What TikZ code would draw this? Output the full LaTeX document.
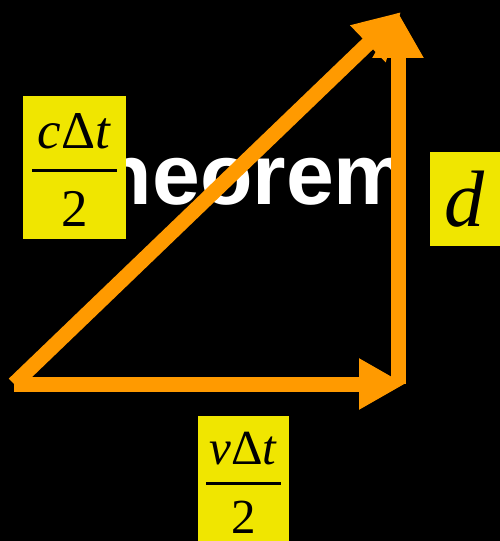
\documentclass[tikz,border=0pt]{standalone}
\usepackage{fontspec}
\setmainfont{Liberation Serif}
\newfontfamily\headfont{Liberation Sans}
\usetikzlibrary{arrows.meta}
\definecolor{legArrow}{HTML}{FF9A00}
\definecolor{legLabel}{HTML}{F0E600}
\newcommand{\halffrac}[4]{\vbox{\offinterlineskip\halign{\hfil##\hfil\cr\noalign{\kern#4}#1\cr\noalign{\kern#3}\rule{#2}{3bp}\cr\noalign{\kern#3}2\cr}}}

\begin{document}
\begin{tikzpicture}[
  x=1bp, y=-1bp,
  vec/.style={-{Triangle[length=46bp, width=48bp]}, line width=15bp, draw=legArrow},
  lbl/.style={fill=legLabel, inner sep=0pt, text=black, align=center}
]
\clip (0,0) rectangle (500,541);
\fill[black] (0,0) rectangle (500,541);

\node[anchor=base west, inner sep=0pt, text=white,
      font=\headfont\bfseries\fontsize{86bp}{90bp}\selectfont] (title) at (47,205) {Theorem};

\coordinate (origin) at (14,384);
\coordinate (foot) at (405,384);
\coordinate (corner) at (398,384);
\coordinate (top) at (398,12);
\coordinate (apex) at (401,12);

\draw[vec] (origin) -- (foot);
\draw[vec] (corner) -- (top);
\draw[vec] (origin) -- (apex);

\node[lbl, minimum width=103bp, minimum height=143bp, font=\fontsize{53bp}{60bp}\selectfont]
  (hyp) at (74.5,167.5) {\halffrac{\textit{c}Δ\textit{t}}{85bp}{20bp}{5bp}};
\node[lbl, minimum width=70bp, minimum height=94bp, font=\fontsize{80bp}{90bp}\selectfont]
  (leg) at (465,199) {\textit{d}};
\node[lbl, minimum width=91bp, minimum height=125bp, font=\fontsize{49bp}{56bp}\selectfont]
  (base) at (243.5,478.5) {\halffrac{\textit{v}Δ\textit{t}}{75bp}{16.5bp}{9bp}};
\end{tikzpicture}
\end{document}
